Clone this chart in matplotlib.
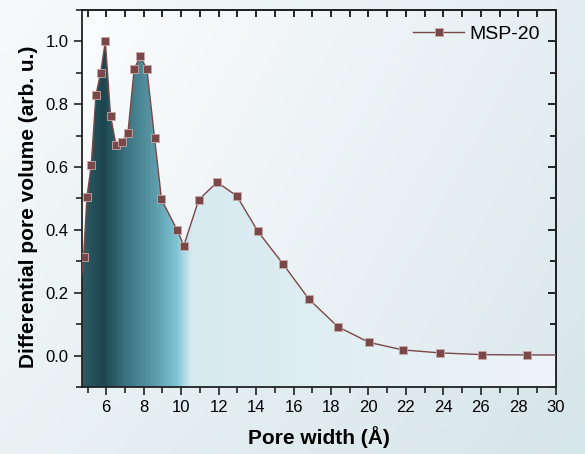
import numpy as np
import matplotlib
matplotlib.use("Agg")
import matplotlib.pyplot as plt
from matplotlib.colors import LinearSegmentedColormap
from matplotlib.patches import Polygon
from matplotlib.ticker import MultipleLocator

plt.rcParams['font.family'] = ['Liberation Sans', 'DejaVu Sans']

# pore width (A) and differential pore volume (arb. u.)
pore_width = [4.4, 4.79, 4.97, 5.2, 5.45, 5.7, 5.95, 6.23, 6.52, 6.82, 7.16,
              7.49, 7.81, 8.17, 8.58, 8.95, 9.79, 10.14, 10.94, 11.92, 12.97,
              14.1, 15.42, 16.83, 18.36, 20.03, 21.84, 23.83, 26.05, 28.44, 31.0]
pore_volume = [0.1, 0.314, 0.505, 0.607, 0.829, 0.90, 1.0, 0.763, 0.671,
               0.681, 0.710, 0.912, 0.952, 0.912, 0.692, 0.497, 0.399, 0.350,
               0.496, 0.552, 0.508, 0.395, 0.293, 0.179, 0.092, 0.042, 0.018,
               0.0085, 0.003, 0.002, 0.002]
series_name = "MSP-20"

x_ticks = [6, 8, 10, 12, 14, 16, 18, 20, 22, 24, 26, 28, 30]
y_ticks = [0.0, 0.2, 0.4, 0.6, 0.8, 1.0]

fig = plt.figure(figsize=(5.85, 4.54), dpi=100)

# figure background gradient
bg = fig.add_axes([0, 0, 1, 1], zorder=-10)
bg.axis("off")
gx, gy = np.meshgrid(np.linspace(0, 1, 200), np.linspace(0, 1, 200))
bg_cmap = LinearSegmentedColormap.from_list("bg", ["#f7fafb", "#d6e5e9"])
bg.imshow(0.6 * gx + 0.4 * gy, cmap=bg_cmap, extent=[0, 1, 0, 1],
          aspect="auto", origin="upper")

ax = fig.add_axes([0.140, 0.1476, 0.810, 0.8304])
ax.set_xlim(4.7, 30)
ax.set_ylim(-0.1, 1.1)

# axes background gradient
ax_cmap = LinearSegmentedColormap.from_list("axbg", ["#fbfcfd", "#dde9ed"])
ax.imshow(0.7 * gx + 0.3 * gy, cmap=ax_cmap, extent=[0, 1, 0, 1],
          transform=ax.transAxes, aspect="auto", origin="upper", zorder=0)

# gradient fill under curve
fill_cmap = LinearSegmentedColormap.from_list("fill", [
    (0.0, "#2d5a63"), (0.043, "#1d464f"), (0.09, "#3a7380"),
    (0.15, "#5a9aa8"), (0.197, "#7cc3d2"), (0.213, "#a8d8e3"),
    (0.229, "#d6eaf0"), (0.60, "#e2eff3"), (1.0, "#eef4f7")])
grad = np.linspace(0, 1, 600).reshape(1, -1)
im = ax.imshow(grad, cmap=fill_cmap, extent=[4.7, 30, -0.1, 1.1],
               aspect="auto", zorder=1)
verts = list(zip(pore_width, pore_volume)) + [(pore_width[-1], -0.1), (pore_width[0], -0.1)]
poly = Polygon(verts, closed=True, transform=ax.transData, facecolor="none", edgecolor="none")
ax.add_patch(poly)
im.set_clip_path(poly)

ax.plot(pore_width, pore_volume, color="#7a4848", lw=1.0, marker="s",
        markersize=6, markerfacecolor="#7a4848", markeredgecolor="#c9a9a9",
        markeredgewidth=0.6, label=series_name, zorder=3)

ax.set_xticks(x_ticks)
ax.set_yticks(y_ticks)
ax.xaxis.set_minor_locator(MultipleLocator(1))
ax.yaxis.set_minor_locator(MultipleLocator(0.1))
ax.set_yticklabels([f"{v:.1f}" for v in y_ticks])
ax.tick_params(which="both", direction="out", labelsize=12, width=1.2, color="#222222")
ax.tick_params(which="major", length=6)
ax.tick_params(which="minor", length=4)

# inward ticks on top and right
secx = ax.secondary_xaxis("top")
secx.set_xticks(x_ticks)
secx.xaxis.set_minor_locator(MultipleLocator(1))
secx.tick_params(which="both", direction="in", length=5, width=1.2, labeltop=False)
secy = ax.secondary_yaxis("right")
secy.set_yticks(y_ticks)
secy.yaxis.set_minor_locator(MultipleLocator(0.1))
secy.tick_params(which="major", direction="in", length=6, width=1.2, labelright=False)
secy.tick_params(which="minor", direction="in", length=4, width=1.2, labelright=False)

for s in list(ax.spines.values()) + [secx.spines["top"], secy.spines["right"]]:
    s.set_linewidth(1.3)
    s.set_color("#222222")

ax.set_xlabel("Pore width (Å)", fontsize=15, fontweight="bold", labelpad=8)
ax.set_ylabel("Differential pore volume (arb. u.)", fontsize=15, fontweight="bold")
ax.yaxis.set_label_coords(-0.093, 0.479)

ax.legend(loc="upper right", frameon=False, fontsize=14, handlelength=2.6,
          handletextpad=0.3, borderaxespad=0.4)

fig.savefig("out.png", dpi=100)
